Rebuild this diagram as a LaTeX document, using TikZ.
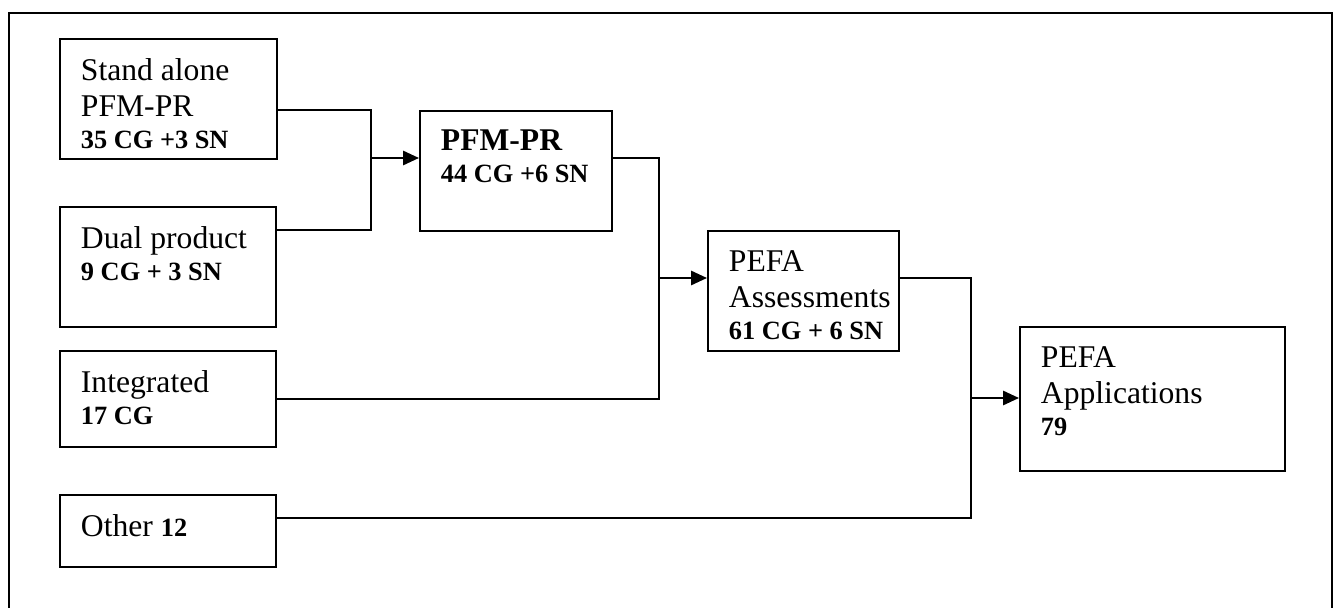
\documentclass[tikz,border=0pt]{standalone}
\usepackage{fontspec}
\setmainfont{Liberation Serif}
\usepackage{tikz}
\usetikzlibrary{arrows.meta,calc}

\newcommand{\rmline}{\fontsize{18}{20.8}\selectfont}
\newcommand{\bfline}{\fontsize{15}{18.2}\selectfont\bfseries}
\newcommand{\boxtext}[3]{%
    \parbox[c][#2][t]{#1}{\vspace*{11pt}\leftskip=12pt\relax #3}}

\begin{document}
\begin{tikzpicture}[x=0.02cm, y=-0.02cm, >={Triangle[length=9pt,width=8pt]},
    box/.style={draw, line width=1pt, inner sep=0pt, anchor=north west},
    link/.style={line width=.9pt},
    feed/.style={->, line width=1.3pt}]
    \useasboundingbox (0,0) rectangle (1336,608);
    \draw [line width=1pt] (9,614) -- (9,13) -- (1332,13) -- (1332,614);

    \node [box] (sa) at (59,38)
        {\boxtext{4.34cm}{2.4cm}{{\rmline Stand alone\par PFM-PR\par}{\bfline 35 CG +3 SN\par}}};
    \node [box] (dp) at (59,206)
        {\boxtext{4.32cm}{2.4cm}{{\rmline Dual product\par}{\bfline 9 CG + 3 SN\par}}};
    \node [box] (ig) at (59,350)
        {\boxtext{4.32cm}{1.92cm}{{\rmline Integrated\par}{\bfline 17 CG\par}}};
    \node [box] (ot) at (59,494)
        {\boxtext{4.32cm}{1.44cm}{{\rmline Other {\fontsize{15}{18}\selectfont\bfseries 12}\par}}};
    \node [box] (pf) at (419,110)
        {\boxtext{3.84cm}{2.4cm}{{\rmline\bfseries PFM-PR\par}{\bfline 44 CG +6 SN\par}}};
    \node [box] (pa) at (707,230)
        {\boxtext{3.82cm}{2.4cm}{{\rmline PEFA\par Assessments\par}{\bfline 61 CG + 6 SN\par}}};
    \node [box] (ap) at (1019,326)
        {\boxtext{5.3cm}{2.88cm}{{\rmline PEFA\par Applications\par}{\bfline 79\par}}};

    \coordinate (j1) at (371,158);
    \coordinate (j2) at (659,278);
    \coordinate (j3) at (971,398);

    \draw [link] ($(sa.north east)+(0,72)$) -| (j1) |- ($(dp.north east)+(0,24)$);
    \draw [feed] (j1) -- (pf.west |- j1);
    \draw [link] (pf.east |- j1) -| (j2) |- (ig.east);
    \draw [feed] (j2) -- (pa.west |- j2);
    \draw [link] (pa.east |- j2) -| (j3) |- ($(ot.north east)+(0,24)$);
    \draw [feed] (j3) -- (ap.west |- j3);
\end{tikzpicture}
\end{document}
